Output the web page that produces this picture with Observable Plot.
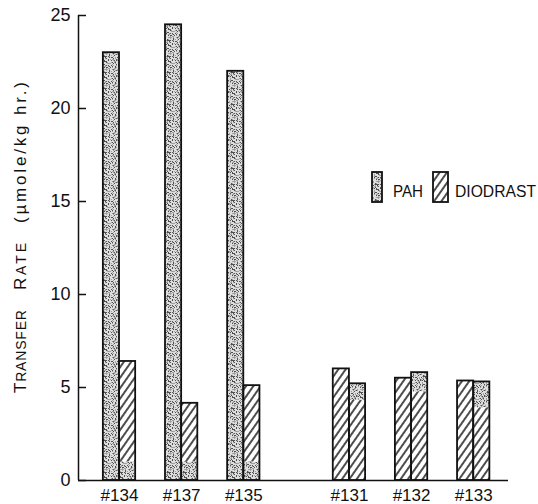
<!DOCTYPE html>
<html>
<head>
<meta charset="utf-8">
<script src="https://cdn.jsdelivr.net/npm/d3@7"></script>
<script src="https://cdn.jsdelivr.net/npm/@observablehq/plot@0.6"></script>
<style>
  html, body { margin: 0; padding: 0; background: white; }
  #chart { position: relative; width: 538px; height: 504px; }
</style>
</head>
<body>
<div id="chart"></div>
<script>
// ---- data ----
const subjects   = ["#134", "#137", "#135", "#131", "#132", "#133"];
const leftBar    = [23.0, 24.5, 22.0, 6.0, 5.5, 5.35];   // left bar height
const rightBar   = [6.4, 4.15, 5.1, 5.2, 5.8, 5.3];      // right bar height
const rightSplit = [1.0, 1.0, 1.0, 4.3, 4.75, 3.9];      // level where right bar's fill changes
const leftFill   = ["PAH", "PAH", "PAH", "DIODRAST", "DIODRAST", "DIODRAST"];
const rightLower = ["PAH", "PAH", "PAH", "DIODRAST", "DIODRAST", "DIODRAST"];
const rightUpper = ["DIODRAST", "DIODRAST", "DIODRAST", "PAH", "PAH", "PAH"];
const legendLabels = ["PAH", "DIODRAST"];
const yTicks = [0, 5, 10, 15, 20, 25];

// ---- layout ----
const groupGap = 0.7;     // extra slot space between the two groups
const bw = 0.26;          // bar width in slot units
const pos = subjects.map((d, i) => i + (i >= 3 ? groupGap : 0));
const xDomain = [-0.66, 6.26];

const segments = [];
const outlines = [];
subjects.forEach((s, i) => {
  const p = pos[i];
  segments.push({type: leftFill[i], x1: p - bw, x2: p, y1: 0, y2: leftBar[i]});
  segments.push({type: rightLower[i], x1: p, x2: p + bw, y1: 0, y2: rightSplit[i]});
  segments.push({type: rightUpper[i], x1: p, x2: p + bw, y1: rightSplit[i], y2: rightBar[i]});
  outlines.push({x1: p - bw, x2: p, y: leftBar[i]});
  outlines.push({x1: p, x2: p + bw, y: rightBar[i]});
});
const fillUrl = {PAH: "url(#stipple)", DIODRAST: "url(#hatch)"};

const font = "'Liberation Sans', Arial, sans-serif";

const svg = Plot.plot({
  width: 538,
  height: 504,
  marginLeft: 78,
  marginRight: 30,
  marginTop: 15,
  marginBottom: 24,
  style: {fontFamily: font, background: "white", color: "#111"},
  x: {type: "linear", domain: xDomain, axis: null},
  y: {domain: [0, 25], axis: null},
  marks: [
    Plot.rect(segments.filter(d => d.type === "PAH"), {x1: "x1", x2: "x2", y1: "y1", y2: "y2", fill: fillUrl.PAH}),
    Plot.rect(segments.filter(d => d.type === "DIODRAST"), {x1: "x1", x2: "x2", y1: "y1", y2: "y2", fill: fillUrl.DIODRAST}),
    Plot.rect(outlines, {x1: "x1", x2: "x2", y1: 0, y2: "y", fill: "none", stroke: "#111", strokeWidth: 1.8}),
    Plot.ruleY([0], {stroke: "#111", strokeWidth: 1.5}),
    Plot.ruleX([xDomain[0]], {y1: 0, y2: 25, stroke: "#111", strokeWidth: 1.5}),
    Plot.axisY({ticks: yTicks, tickSize: -8, tickPadding: 16, fontSize: 18, stroke: "#111", strokeWidth: 1.5, tickFormat: d => String(d), fill: "#111"}),
    Plot.text(subjects, {x: (d, i) => pos[i], y: 0, dy: 15, fontSize: 17, fill: "#111", text: d => d})
  ]
});

// patterns (texture only)
const defs = d3.select(svg).insert("defs", ":first-child");
const P = 16;
const st = defs.append("pattern").attr("id", "stipple").attr("patternUnits", "userSpaceOnUse")
  .attr("width", P).attr("height", P);
st.append("rect").attr("width", P).attr("height", P).attr("fill", "#dedede");
const rnd = d3.randomLcg(7);
for (let yy = 0; yy < P; yy++) for (let xx = 0; xx < P; xx++) {
  const r = rnd();
  if (r < 0.20) st.append("rect").attr("x", xx).attr("y", yy).attr("width", 1).attr("height", 1).attr("fill", "#505050");
  else if (r < 0.42) st.append("rect").attr("x", xx).attr("y", yy).attr("width", 1).attr("height", 1).attr("fill", "#a0a0a0");
}
const ht = defs.append("pattern").attr("id", "hatch").attr("patternUnits", "userSpaceOnUse")
  .attr("width", 6).attr("height", 6).attr("patternTransform", "rotate(35)");
ht.append("rect").attr("width", 6).attr("height", 6).attr("fill", "white");
ht.append("line").attr("x1", 3).attr("y1", -1).attr("x2", 3).attr("y2", 7).attr("stroke", "#111").attr("stroke-width", 1.5);

const g = d3.select(svg).append("g").attr("font-family", font).attr("fill", "#111").attr("text-anchor", "start");

// y-axis title (small caps drawn with tspans)
function rotText(yStart, len, parts) {
  const t = g.append("text").attr("text-anchor", "start")
    .attr("transform", `translate(26,${yStart}) rotate(-90)`)
    .attr("textLength", len).attr("lengthAdjust", "spacing");
  parts.forEach(([s, fs]) => t.append("tspan").attr("font-size", fs).text(s));
}
rotText(393, 83, [["T", 17], ["RANSFER", 14]]);
rotText(290, 47, [["R", 17], ["ATE", 14]]);
rotText(223, 141, [["(\u00b5mole/kg hr.)", 17]]);

// legend
const lg = g.append("g");
lg.append("rect").attr("x", 372).attr("y", 172).attr("width", 10).attr("height", 30)
  .attr("fill", fillUrl.PAH).attr("stroke", "#111").attr("stroke-width", 1.8);
lg.append("text").attr("text-anchor", "start").attr("x", 393).attr("y", 197).attr("font-size", 16)
  .attr("textLength", 30).attr("lengthAdjust", "spacingAndGlyphs").text(legendLabels[0]);
lg.append("rect").attr("x", 433).attr("y", 172).attr("width", 15).attr("height", 30)
  .attr("fill", fillUrl.DIODRAST).attr("stroke", "#111").attr("stroke-width", 1.8);
lg.append("text").attr("text-anchor", "start").attr("x", 455).attr("y", 197).attr("font-size", 16)
  .attr("textLength", 81).attr("lengthAdjust", "spacingAndGlyphs").text(legendLabels[1]);

document.getElementById("chart").appendChild(svg);
</script>
</body>
</html>
